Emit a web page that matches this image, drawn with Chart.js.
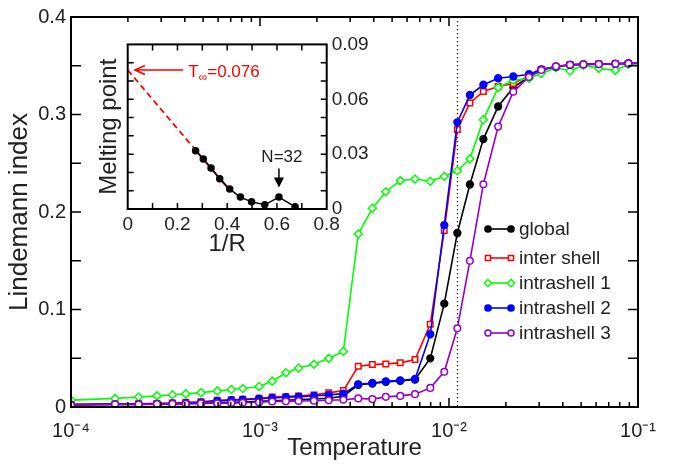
<!DOCTYPE html>
<html><head><meta charset="utf-8">
<script src="https://cdn.jsdelivr.net/npm/chart.js@4.4.1/dist/chart.umd.min.js"></script>
<style>
html,body{margin:0;padding:0;background:#fff;}
#wrap{position:relative;width:679px;height:467px;overflow:hidden;}
#main{position:absolute;left:0;top:0;}
#inset{position:absolute;left:80px;top:28px;}
</style></head><body>
<div id="wrap">
<canvas id="main" width="679" height="467"></canvas>
<canvas id="inset" width="290" height="240"></canvas>
</div>
<script>
// ---------------- data (main plot) ----------------
const temperature = [1.00e-4,1.71e-4,2.28e-4,2.85e-4,3.44e-4,4.05e-4,4.87e-4,5.94e-4,7.05e-4,8.10e-4,9.88e-4,1.16e-3,1.37e-3,1.60e-3,1.93e-3,2.31e-3,2.76e-3,3.31e-3,3.93e-3,4.63e-3,5.52e-3,6.61e-3,7.96e-3,9.44e-3,1.107e-2,1.29e-2,1.52e-2,1.82e-2,2.19e-2,2.65e-2,3.08e-2,3.68e-2,4.37e-2,5.14e-2,6.20e-2,7.59e-2,8.89e-2,1.00e-1];
const globalIndex = [0.0020,0.0025,0.0025,0.0028,0.0030,0.0033,0.0037,0.0042,0.0047,0.0052,0.0058,0.0064,0.0070,0.0076,0.0082,0.0090,0.0111,0.0228,0.0241,0.0258,0.0268,0.0282,0.0499,0.1060,0.1785,0.2282,0.2748,0.3082,0.3278,0.3385,0.3456,0.3490,0.3510,0.3514,0.3517,0.3520,0.3524,0.3525];
const interShell = [0.0030,0.0033,0.0033,0.0037,0.0040,0.0048,0.0054,0.0070,0.0075,0.0080,0.0090,0.0102,0.0106,0.0114,0.0124,0.0145,0.0168,0.0418,0.0435,0.0442,0.0453,0.0486,0.0848,0.1810,0.2846,0.3119,0.3237,0.3288,0.3318,0.3396,0.3463,0.3490,0.3510,0.3514,0.3517,0.3520,0.3524,0.3525];
const intrashell1 = [0.0070,0.0088,0.0102,0.0114,0.0125,0.0135,0.0147,0.0165,0.0180,0.0190,0.0210,0.0265,0.0351,0.0400,0.0438,0.0499,0.0570,0.1775,0.2038,0.2208,0.2322,0.2339,0.2316,0.2367,0.2423,0.2545,0.2947,0.3278,0.3352,0.3370,0.3420,0.3480,0.3446,0.3506,0.3473,0.3453,0.3514,0.3520];
const intrashell2 = [0.0023,0.0030,0.0030,0.0033,0.0037,0.0040,0.0048,0.0062,0.0069,0.0075,0.0085,0.0093,0.0100,0.0106,0.0113,0.0124,0.0137,0.0233,0.0246,0.0263,0.0273,0.0287,0.0746,0.1866,0.2920,0.3200,0.3305,0.3372,0.3390,0.3413,0.3463,0.3490,0.3510,0.3514,0.3517,0.3520,0.3524,0.3525];
const intrashell3 = [0.0020,0.0027,0.0027,0.0030,0.0033,0.0033,0.0037,0.0038,0.0040,0.0044,0.0048,0.0057,0.0058,0.0061,0.0064,0.0070,0.0074,0.0088,0.0081,0.0104,0.0114,0.0132,0.0196,0.0361,0.0807,0.1499,0.2285,0.2876,0.3234,0.3385,0.3456,0.3494,0.3511,0.3514,0.3517,0.3520,0.3524,0.3525];
const xTickValues = [1e-4, 1e-3, 1e-2, 1e-1];
const xTickLabels = ['10\u207B\u2074', '10\u207B\u00B3', '10\u207B\u00B2', '10\u207B\u00B9'];
const yTickValues = [0, 0.1, 0.2, 0.3, 0.4];
const meltingTemperature = 0.011;

// ---------------- data (inset) ----------------
const inverseRadius = [0.273, 0.304, 0.335, 0.370, 0.410, 0.453, 0.498, 0.551, 0.608, 0.673];
const meltingPoint  = [0.0318, 0.0274, 0.0224, 0.0166, 0.0109, 0.0065, 0.0039, 0.0023, 0.0065, 0.0012];
const fitX = [0, 0.273, 0.40];
const fitY = [0.076, 0.0322, 0.0118];
const insetXTicks = [0, 0.2, 0.4, 0.6, 0.8];
const insetYTicks = [0, 0.03, 0.06, 0.09];

const FONT = "'Liberation Sans', Arial, Helvetica, sans-serif";
const TEXT = '#222';

const lastIdx = temperature.length - 1;
const series = arr => temperature.map((t, i) => ({x: t, y: arr[i]}));
const radius = r => ctx => (ctx.dataIndex === lastIdx ? 0 : r);

const styles = [
  {label: 'global',       data: globalIndex, color: '#000000', point: 'circle',  fill: '#000000', r: 3.4, order: 5},
  {label: 'inter shell',  data: interShell,  color: '#ff0000', point: 'rect',    fill: '#ffffff', r: 3.9, order: 4},
  {label: 'intrashell 1', data: intrashell1, color: '#00ff00', point: 'rectRot', fill: '#ffffff', r: 4.0, order: 3},
  {label: 'intrashell 2', data: intrashell2, color: '#0000ff', point: 'circle',  fill: '#0000ff', r: 3.4, order: 2},
  {label: 'intrashell 3', data: intrashell3, color: '#9400d3', point: 'circle',  fill: '#ffffff', r: 3.3, order: 1}
];

function drawMarker(ctx, style, x, y, r, fill, stroke, lw) {
  ctx.beginPath();
  if (style === 'circle') ctx.arc(x, y, r, 0, Math.PI * 2);
  else if (style === 'rect') { const s = r * Math.SQRT1_2; ctx.rect(x - s, y - s, 2 * s, 2 * s); }
  else { ctx.moveTo(x - r, y); ctx.lineTo(x, y - r); ctx.lineTo(x + r, y); ctx.lineTo(x, y + r); ctx.closePath(); }
  ctx.fillStyle = fill; ctx.fill();
  ctx.lineWidth = lw; ctx.strokeStyle = stroke; ctx.stroke();
}

const mainFrame = {
  id: 'mainFrame',
  beforeDatasetsDraw(chart) {
    const {ctx, chartArea: a, scales: {x}} = chart;
    const px = Math.round(x.getPixelForValue(meltingTemperature)) + 0.5;
    ctx.save();
    ctx.strokeStyle = '#000'; ctx.lineWidth = 1.2; ctx.setLineDash([1.2, 2.8]);
    ctx.beginPath(); ctx.moveTo(px, a.top); ctx.lineTo(px, a.bottom); ctx.stroke();
    ctx.restore();
  },
  afterDatasetsDraw(chart) {
    const {ctx, chartArea: a, scales: {x, y}} = chart;
    ctx.save();
    ctx.strokeStyle = '#000'; ctx.lineWidth = 1.5;
    ctx.beginPath();
    for (let d = -4; d <= -1; d++) {
      for (let k = 1; k <= 9; k++) {
        const v = k * Math.pow(10, d);
        if (v <= 1e-4 || v >= 1e-1) continue;
        const p = x.getPixelForValue(v);
        const len = k === 1 ? 9 : 5;
        ctx.moveTo(p, a.bottom); ctx.lineTo(p, a.bottom - len);
        ctx.moveTo(p, a.top); ctx.lineTo(p, a.top + len);
      }
    }
    for (let i = 1; i < 8; i++) {
      const p = y.getPixelForValue(i * 0.05);
      ctx.moveTo(a.left, p); ctx.lineTo(a.left + 10, p);
      ctx.moveTo(a.right, p); ctx.lineTo(a.right - 10, p);
    }
    ctx.stroke();
    ctx.lineWidth = 2;
    ctx.strokeRect(a.left, a.top, a.right - a.left, a.bottom - a.top);

    // legend
    const ly = [229, 258, 283, 308, 333];
    styles.forEach((s, i) => {
      const yy = ly[i];
      ctx.strokeStyle = s.color; ctx.lineWidth = 1.6;
      ctx.beginPath(); ctx.moveTo(488, yy); ctx.lineTo(511, yy); ctx.stroke();
      drawMarker(ctx, s.point, 488, yy, s.r - 0.3, s.fill, s.color, 1.5);
      drawMarker(ctx, s.point, 511, yy, s.r - 0.3, s.fill, s.color, 1.5);
      ctx.fillStyle = TEXT; ctx.font = '19px ' + FONT;
      ctx.textAlign = 'left'; ctx.textBaseline = 'middle';
      ctx.fillText(s.label, 519, yy + 1);
    });
    ctx.restore();
  }
};

new Chart(document.getElementById('main'), {
  type: 'line',
  data: {
    datasets: styles.map(s => ({
      label: s.label, data: series(s.data),
      borderColor: s.color, backgroundColor: s.fill, borderWidth: 1.6,
      pointStyle: s.point, pointRadius: radius(s.r), pointHoverRadius: radius(s.r),
      pointBackgroundColor: s.fill, pointBorderColor: s.color, pointBorderWidth: 1.5,
      tension: 0, fill: false, order: s.order
    }))
  },
  options: {
    responsive: false, animation: false, devicePixelRatio: 1, events: [],
    layout: {padding: {top: 12, right: 41, left: 0, bottom: 0}},
    plugins: {legend: {display: false}, tooltip: {enabled: false}},
    scales: {
      x: {
        type: 'logarithmic', min: 1e-4, max: 1e-1, position: 'bottom',
        afterBuildTicks: s => { s.ticks = xTickValues.map(v => ({value: v})); },
        afterFit: s => { s.height = 60; },
        grid: {display: false, drawTicks: false}, border: {display: false},
        ticks: {autoSkip: false, maxRotation: 0, padding: 12, color: TEXT,
          font: {family: FONT, size: 20}, callback: (v, i) => xTickLabels[i]},
        title: {display: true, text: 'Temperature', color: TEXT,
          font: {family: FONT, size: 24}, padding: {top: 0, bottom: 4}}
      },
      y: {
        type: 'linear', min: 0, max: 0.4, position: 'left',
        afterBuildTicks: s => { s.ticks = yTickValues.map(v => ({value: v})); },
        afterFit: s => { s.width = 71; },
        grid: {display: false, drawTicks: false}, border: {display: false},
        ticks: {padding: 5, color: TEXT, font: {family: FONT, size: 20},
          callback: v => (v === 0 ? '0' : v.toFixed(1))},
        title: {display: true, text: 'Lindemann index', color: TEXT,
          font: {family: FONT, size: 26}, padding: {top: 4, bottom: 0}}
      }
    }
  },
  plugins: [mainFrame]
});

// ---------------- inset ----------------
const insetFrame = {
  id: 'insetFrame',
  beforeDatasetsDraw(chart) {
    const {ctx, chartArea: a} = chart;
    ctx.save(); ctx.fillStyle = '#fff';
    ctx.fillRect(a.left, a.top, a.right - a.left, a.bottom - a.top);
    ctx.restore();
  },
  afterDatasetsDraw(chart) {
    const {ctx, chartArea: a, scales: {x, y}} = chart;
    ctx.save();
    ctx.strokeStyle = '#000'; ctx.lineWidth = 1.5;
    ctx.beginPath();
    for (let i = 1; i < 8; i++) {
      const p = x.getPixelForValue(i * 0.1);
      ctx.moveTo(p, a.bottom); ctx.lineTo(p, a.bottom - 6);
      ctx.moveTo(p, a.top); ctx.lineTo(p, a.top + 6);
    }
    for (let i = 1; i < 9; i++) {
      const p = y.getPixelForValue(i * 0.01);
      ctx.moveTo(a.left, p); ctx.lineTo(a.left + 6, p);
      ctx.moveTo(a.right, p); ctx.lineTo(a.right - 6, p);
    }
    ctx.stroke();
    ctx.lineWidth = 2;
    ctx.strokeRect(a.left, a.top, a.right - a.left, a.bottom - a.top);

    // red arrow to T_inf
    const ay = y.getPixelForValue(fitY[0]);
    const tail = x.getPixelForValue(0.2235), tip = x.getPixelForValue(0.029);
    ctx.strokeStyle = '#ff0000'; ctx.lineWidth = 1.5;
    ctx.beginPath();
    ctx.moveTo(tail, ay); ctx.lineTo(tip, ay);
    ctx.moveTo(tip + 10, ay - 4.5); ctx.lineTo(tip, ay); ctx.lineTo(tip + 10, ay + 4.5);
    ctx.stroke();
    // T_inf label
    let tx = x.getPixelForValue(0.2436);
    const ty = y.getPixelForValue(0.0724);
    ctx.fillStyle = '#ff0000'; ctx.textAlign = 'left'; ctx.textBaseline = 'alphabetic';
    ctx.font = '17px ' + FONT; ctx.fillText('T', tx, ty); tx += ctx.measureText('T').width;
    ctx.font = '12px ' + FONT; ctx.fillText('\u221E', tx, ty + 4.5); tx += ctx.measureText('\u221E').width;
    ctx.font = '17px ' + FONT; ctx.fillText('=0.076', tx, ty);

    // N=32 arrow
    const nx = x.getPixelForValue(0.608);
    const nTop = y.getPixelForValue(0.0222), nTip = y.getPixelForValue(0.0118);
    ctx.strokeStyle = '#000'; ctx.fillStyle = '#000'; ctx.lineWidth = 1.5;
    ctx.beginPath(); ctx.moveTo(nx, nTop); ctx.lineTo(nx, nTip - 6); ctx.stroke();
    ctx.beginPath(); ctx.moveTo(nx - 5, nTip - 10); ctx.lineTo(nx + 5, nTip - 10); ctx.lineTo(nx, nTip); ctx.closePath(); ctx.fill();
    ctx.fillStyle = TEXT; ctx.font = '17px ' + FONT; ctx.textAlign = 'center';
    ctx.fillText('N=32', x.getPixelForValue(0.62), y.getPixelForValue(0.0256));
    ctx.restore();
  }
};

new Chart(document.getElementById('inset'), {
  type: 'line',
  data: {
    datasets: [
      {label: 'fit (extrapolated)', data: [{x: fitX[0], y: fitY[0]}, {x: fitX[1], y: fitY[1]}],
        borderColor: '#ff0000', borderWidth: 1.8, borderDash: [6, 4], pointRadius: 0, fill: false, order: 3},
      {label: 'fit', data: [{x: fitX[1], y: fitY[1]}, {x: fitX[2], y: fitY[2]}],
        borderColor: '#ff0000', borderWidth: 1.8, pointRadius: 0, fill: false, order: 2},
      {label: 'melting point', data: inverseRadius.map((v, i) => ({x: v, y: meltingPoint[i]})),
        borderColor: '#000', borderWidth: 1.5, pointStyle: 'circle', pointRadius: 3,
        pointBackgroundColor: '#000', pointBorderColor: '#000', fill: false, order: 1}
    ]
  },
  options: {
    responsive: false, animation: false, devicePixelRatio: 1, events: [],
    layout: {padding: {top: 11, left: 0, right: 0, bottom: 0}},
    plugins: {legend: {display: false}, tooltip: {enabled: false}},
    scales: {
      x: {
        type: 'linear', min: 0, max: 0.8, position: 'bottom',
        afterBuildTicks: s => { s.ticks = insetXTicks.map(v => ({value: v})); },
        afterFit: s => { s.height = 59; },
        grid: {display: false, drawTicks: false}, border: {display: false},
        ticks: {autoSkip: false, maxRotation: 0, padding: 4, color: TEXT,
          font: {family: FONT, size: 19}, callback: v => (v === 0 ? '0' : v.toFixed(1))},
        title: {display: true, text: '1/R', color: TEXT, font: {family: FONT, size: 24},
          padding: {top: 0, bottom: 9}}
      },
      y: {
        type: 'linear', min: 0, max: 0.09, position: 'right',
        afterBuildTicks: s => { s.ticks = insetYTicks.map(v => ({value: v})); },
        afterFit: s => { s.width = 43.3; },
        grid: {display: false, drawTicks: false}, border: {display: false},
        ticks: {padding: 5, color: TEXT, font: {family: FONT, size: 19},
          callback: v => (v === 0 ? '0' : v.toFixed(2))}
      },
      yl: {
        type: 'linear', min: 0, max: 1, position: 'left',
        afterFit: s => { s.width = 47.7; },
        grid: {display: false, drawTicks: false}, border: {display: false},
        ticks: {display: false},
        title: {display: true, text: 'Melting point', color: TEXT, font: {family: FONT, size: 24},
          padding: {top: 15, bottom: 0}}
      }
    }
  },
  plugins: [insetFrame]
});
</script>
</body></html>
